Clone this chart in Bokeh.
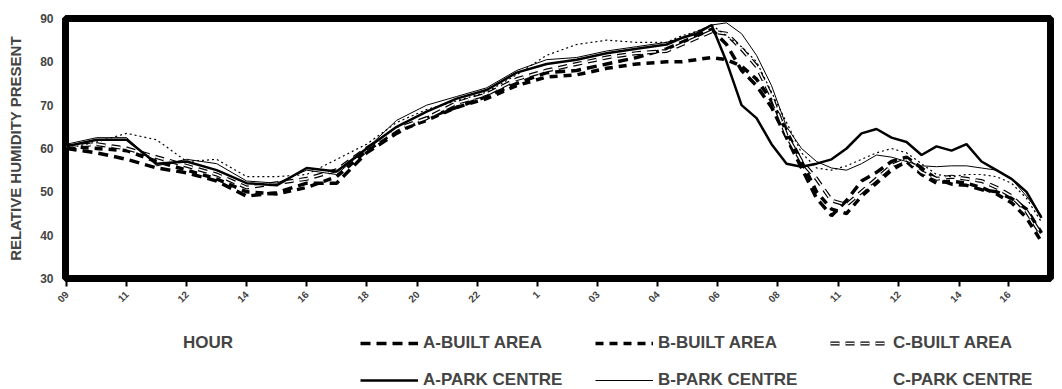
import math
from bokeh.plotting import figure
from bokeh.layouts import column
from bokeh.models import Legend, LegendItem, FixedTicker, Range1d
from bokeh.embed import file_html
from bokeh.resources import INLINE

# elapsed-time position (tick units) of each sample
hours = [0, 0.5, 1, 1.5, 2, 2.5, 3, 3.5, 4, 4.5, 5, 5.5, 6, 6.5, 7, 7.5, 8, 8.5, 9, 9.5, 10,
         10.25, 10.5, 10.75, 11, 11.25, 11.5, 11.75, 12, 12.25, 12.5, 12.75, 13, 13.25, 13.5,
         13.75, 14, 14.25, 14.5, 14.75, 15, 15.25, 15.5, 15.75, 16, 16.25]

a_built = [60, 59, 57.5, 55.5, 54.4, 52.5, 49, 49.8, 52, 52, 59, 63.5, 67, 69.5, 72, 75, 77.5, 78, 79.5, 81, 83,
           84.5, 86, 87.5, 84, 78, 74.5, 69.5, 62.5, 55.5, 48.5, 44.5, 48, 52.5, 54.5, 57, 58, 55.5, 53,
           51.8, 51.5, 50.5, 50, 48.5, 46, 40.5]
b_built = [60.5, 60, 59.5, 57, 55, 53, 50, 49.5, 51, 53.5, 59.5, 64, 66.5, 69.5, 71.5, 74.5, 76.5, 77, 78.5, 79.5, 80,
           80, 80.5, 81, 80.5, 79, 76, 71, 64, 57, 50, 46, 45, 49, 52, 55, 57, 54, 52,
           52.5, 52, 51, 49.5, 47.5, 44, 38.5]
c_built = [60.5, 61, 60, 58, 56, 54, 51, 52, 53, 55, 60, 64.5, 67, 70.5, 72.5, 76, 78, 79.5, 81, 82, 82.5,
           84, 85.5, 87, 86.5, 83, 79, 72, 63, 57, 53, 48, 47, 50, 53, 56, 57.5, 54.5, 53,
           53.5, 53, 52.5, 51, 49, 45.5, 40]
a_park = [60.5, 62, 62, 56.5, 57, 55, 52, 51.5, 55.5, 54.7, 60, 65, 68.5, 71.5, 73.5, 77.5, 79.5, 80.5, 82, 83, 84,
          85.5, 86.5, 88.5, 80, 70, 67, 61, 56.5, 55.8, 56.5, 57.5, 60, 63.5, 64.5, 62.5, 61.5, 58.5, 60.5,
          59.5, 61, 57, 55, 53, 50, 44]
b_park = [61, 62.5, 62.5, 56, 57.5, 56.5, 52.5, 52, 55, 54, 60, 66.5, 70, 72, 74, 78, 80.5, 81, 82.5, 83.5, 84.5,
          85.5, 87, 88.5, 89, 86.5, 81.5, 74.5, 65, 60, 57, 55.5, 55, 56.5, 58.5, 58, 57, 56, 55.8,
          56, 56, 55.5, 55, 53, 49, 44.5]
c_park = [60, 61.5, 63.5, 62, 57, 57.5, 53.5, 53.5, 54, 57.5, 61, 66, 69, 71, 73, 77, 81.5, 84, 85, 84.5, 84.5,
          86, 87, 88.5, 86, 83.5, 80, 73, 66, 59, 55.5, 55, 56, 57.5, 59, 60, 59, 56.5, 54,
          53.5, 54, 54, 53.5, 52, 48.5, 43]

tick_pos = [0.0, 1.0, 2.0, 3.0, 4.0, 5.0, 5.85, 6.85, 7.85, 8.85, 9.85, 10.85, 11.85, 12.87, 13.87, 14.88, 15.7]
tick_labels = ["09", "11", "12", "14", "16", "18", "20", "22", "1", "03", "04", "06", "08", "11", "12", "14", "16"]
y_ticks = [30, 40, 50, 60, 70, 80, 90]

FONT = "Liberation Sans"

# ---------------- main chart ----------------
p = figure(width=1054, height=310, x_range=Range1d(-0.02, 16.4), y_range=Range1d(30, 90),
           output_backend="svg", toolbar_location=None,
           min_border_left=65, min_border_right=4, min_border_top=18, min_border_bottom=32)
p.grid.visible = False
p.background_fill_color = "white"
p.border_fill_color = "white"
p.outline_line_color = "black"
p.outline_line_width = 7

xa = p.xaxis[0]
xa.ticker = FixedTicker(ticks=tick_pos)
xa.major_label_overrides = {t: l for t, l in zip(tick_pos, tick_labels)}
xa.major_label_orientation = math.pi / 4
xa.major_label_text_font = FONT
xa.major_label_text_font_size = "10px"
xa.major_label_text_font_style = "bold"
xa.major_label_standoff = 6
xa.major_tick_out = 8
xa.major_tick_in = 0
xa.major_tick_line_width = 2
xa.minor_tick_out = 0
xa.minor_tick_in = 0
xa.axis_line_color = None

ya = p.yaxis[0]
ya.ticker = FixedTicker(ticks=y_ticks)
ya.major_label_text_font = FONT
ya.major_label_text_font_size = "12px"
ya.major_label_text_font_style = "bold"
ya.major_label_standoff = 12
ya.major_tick_out = 0
ya.major_tick_in = 0
ya.minor_tick_out = 0
ya.minor_tick_in = 0
ya.axis_line_color = None
ya.axis_label = "RELATIVE HUMIDITY PRESENT"
ya.axis_label_text_font = FONT
ya.axis_label_text_font_size = "15px"
ya.axis_label_text_font_style = "bold"
ya.axis_label_standoff = 13

STYLES = {
    "ab": dict(line_color="black", line_width=3.5, line_dash="10 6"),
    "bb": dict(line_color="black", line_width=3.5, line_dash="8 6"),
    "cb1": dict(line_color="black", line_width=4, line_dash="9 6"),
    "cb2": dict(line_color="white", line_width=1.6, line_dash="9 6"),
    "ap": dict(line_color="black", line_width=2.5),
    "bp": dict(line_color="black", line_width=1),
    "cp": dict(line_color="black", line_width=1.2, line_dash="2 3"),
}
SERIES = {"ab": a_built, "bb": b_built, "cb1": c_built, "cb2": c_built,
          "ap": a_park, "bp": b_park, "cp": c_park}

for k, s in STYLES.items():
    p.line(hours, SERIES[k], **s)

# ---------------- legend strip ----------------
# same series drawn again as legend proxies, with ranges that keep them out of view
lf = figure(width=1054, height=79, x_range=Range1d(100, 101), y_range=Range1d(100, 101),
            output_backend="svg", toolbar_location=None,
            x_axis_type=None, y_axis_type=None,
            min_border_left=0, min_border_right=0, min_border_top=0, min_border_bottom=0)
lf.grid.visible = False
lf.outline_line_color = None
lf.background_fill_color = "white"
lf.border_fill_color = "white"

lr = {k: lf.line(hours, SERIES[k], **s) for k, s in STYLES.items()}
blank = lf.line(hours, c_park, line_alpha=0)


def make_legend(items, x, y, glyph_width=58, standoff=5, label_width=162):
    return Legend(items=items, location=(x, y), orientation="horizontal",
                  glyph_width=glyph_width, glyph_height=20, label_height=20,
                  label_standoff=standoff, label_width=label_width, spacing=10,
                  padding=0, margin=0, border_line_color=None, background_fill_alpha=0,
                  label_text_font=FONT, label_text_font_size="17px",
                  label_text_font_style="bold")


leg_hour = make_legend([LegendItem(label="HOUR", renderers=[blank])], 118, 36,
                       glyph_width=0, standoff=0, label_width=50)
leg_row1 = make_legend([
    LegendItem(label="A-BUILT AREA", renderers=[lr["ab"]]),
    LegendItem(label="B-BUILT AREA", renderers=[lr["bb"]]),
    LegendItem(label="C-BUILT AREA", renderers=[lr["cb1"], lr["cb2"]]),
], 295, 36)
leg_row2 = make_legend([
    LegendItem(label="A-PARK CENTRE", renderers=[lr["ap"]]),
    LegendItem(label="B-PARK CENTRE", renderers=[lr["bp"]]),
    LegendItem(label="C-PARK CENTRE", renderers=[blank]),
], 295, -1)

for lg in (leg_hour, leg_row1, leg_row2):
    lf.add_layout(lg)

layout = column(p, lf, spacing=0)
open("out.html", "w").write(file_html(layout, INLINE))
